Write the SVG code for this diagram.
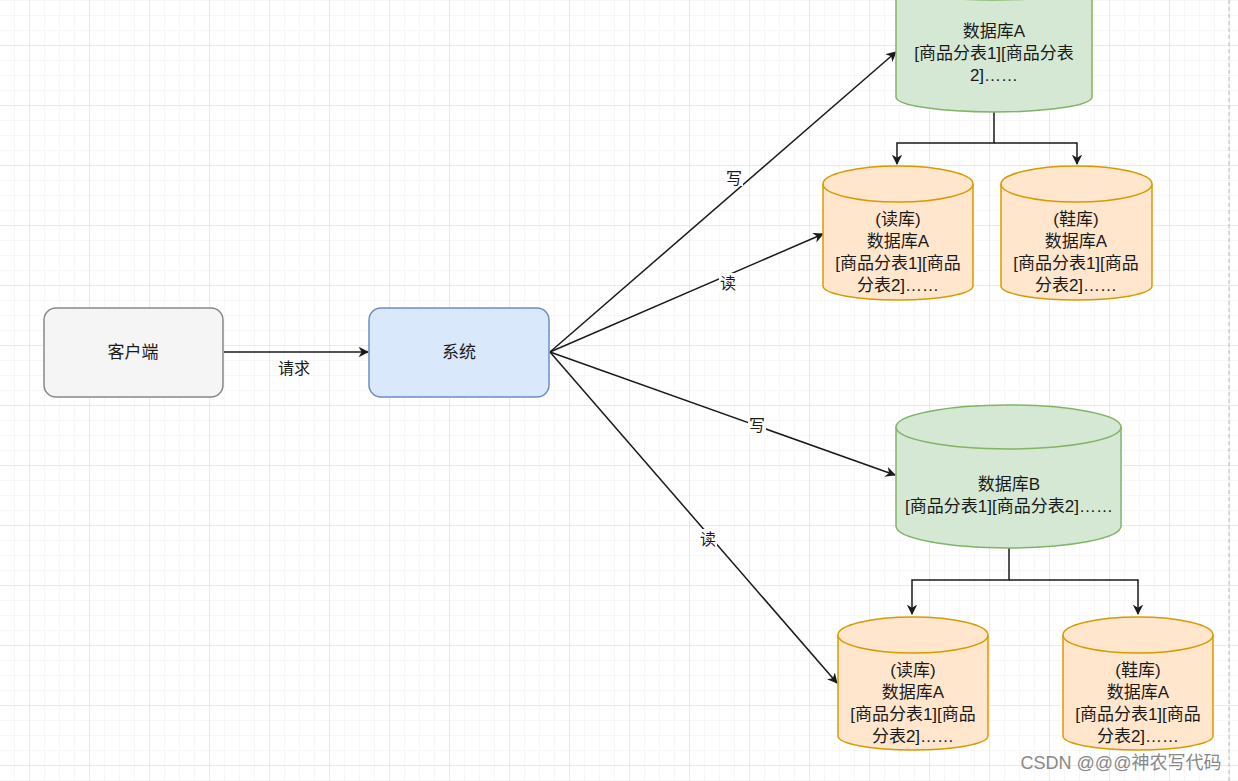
<svg xmlns="http://www.w3.org/2000/svg" width="1238" height="781" viewBox="0 0 1238 781">
<defs>
<pattern id="minor" width="15" height="15" patternUnits="userSpaceOnUse" x="29" y="45"><path d="M0 0H15M0 0V15" fill="none" stroke="#f0f0f0" stroke-width="1"/></pattern>
<pattern id="major" width="60" height="60" patternUnits="userSpaceOnUse" x="29" y="45"><path d="M0 0H60M0 0V60" fill="none" stroke="#dedede" stroke-width="1"/></pattern>
<marker id="ar" viewBox="0 0 10 10" refX="9" refY="5" markerWidth="7" markerHeight="7" orient="auto"><path d="M0 0L10 5L0 10L3 5Z" fill="#1a1a1a"/></marker>
<style>
text{font-family:"Liberation Sans","Noto Sans CJK SC",sans-serif;font-size:17px;fill:#1a1a1a;text-anchor:middle}
.c{stroke:#1a1a1a;stroke-width:1.5;fill:none}
.g{fill:#d5e8d4;stroke:#82b366;stroke-width:1.5}
.o{fill:#ffe6cc;stroke:#d79b00;stroke-width:1.5}
.lbl{font-size:16px}
</style>
</defs>
<rect width="1238" height="781" fill="#fff"/>
<rect width="1238" height="781" fill="url(#minor)"/>
<rect width="1238" height="781" fill="url(#major)"/>
<line x1="1229" y1="0" x2="1229" y2="781" stroke="#bbb" stroke-dasharray="4 3"/>
<g id="connectors">
<line class="c" x1="224" y1="352" x2="368" y2="352" marker-end="url(#ar)"/>
<text class="lbl" x="294" y="374">请求</text>
<line class="c" x1="550" y1="352" x2="896" y2="52" marker-end="url(#ar)"/>
<rect x="725" y="168" width="18" height="18" fill="#fff"/><text class="lbl" x="734" y="184">写</text>
<line class="c" x1="550" y1="352" x2="823" y2="234" marker-end="url(#ar)"/>
<rect x="719" y="273" width="18" height="18" fill="#fff"/><text class="lbl" x="728" y="289">读</text>
<line class="c" x1="550" y1="352" x2="895" y2="475" marker-end="url(#ar)"/>
<rect x="748" y="415" width="18" height="18" fill="#fff"/><text class="lbl" x="757" y="431">写</text>
<line class="c" x1="550" y1="352" x2="837" y2="683" marker-end="url(#ar)"/>
<rect x="699" y="529" width="18" height="18" fill="#fff"/><text class="lbl" x="708" y="545">读</text>
<path class="c" d="M994 112V143H897V164" marker-end="url(#ar)"/>
<path class="c" d="M994 143H1077V164" marker-end="url(#ar)"/>
<path class="c" d="M1009 548V580H912V614" marker-end="url(#ar)"/>
<path class="c" d="M1009 580H1138V614" marker-end="url(#ar)"/>
</g>
<g id="client"><rect x="44" y="308" width="179" height="89" rx="12" fill="#f5f5f5" stroke="#888" stroke-width="1.5"/><text x="133" y="358">客户端</text></g>
<g id="system"><rect x="369" y="308" width="180" height="89" rx="12" fill="#dae8fc" stroke="#6c8ebf" stroke-width="1.5"/><text x="459" y="358">系统</text></g>
<g id="dbA"><path class="g" d="M896 -15V97A98 15 0 0 0 1092 97V-15"/><ellipse class="g" cx="994" cy="-15" rx="98" ry="15"/>
<text x="994" y="37">数据库A</text><text x="994" y="59">[商品分表1][商品分表</text><text x="994" y="81">2]……</text></g>
<g id="dbA-read"><path class="o" d="M823 184V286A75 14 0 0 0 973 286V184"/><ellipse class="o" cx="898" cy="184" rx="75" ry="18"/>
<text x="898" y="225">(读库)</text><text x="898" y="247">数据库A</text><text x="898" y="269">[商品分表1][商品</text><text x="898" y="291">分表2]……</text></g>
<g id="dbA-shoe"><path class="o" d="M1001 184V286A75.5 14 0 0 0 1152 286V184"/><ellipse class="o" cx="1076.5" cy="184" rx="75.5" ry="18"/>
<text x="1076" y="225">(鞋库)</text><text x="1076" y="247">数据库A</text><text x="1076" y="269">[商品分表1][商品</text><text x="1076" y="291">分表2]……</text></g>
<g id="dbB"><path class="g" d="M896 427V526A112.5 22 0 0 0 1121 526V427"/><ellipse class="g" cx="1008.5" cy="427" rx="112.5" ry="22"/>
<text x="1009" y="490">数据库B</text><text x="1009" y="512">[商品分表1][商品分表2]……</text></g>
<g id="dbB-read"><path class="o" d="M838 635V736A75 14 0 0 0 988 736V635"/><ellipse class="o" cx="913" cy="635" rx="75" ry="18"/>
<text x="913" y="676">(读库)</text><text x="913" y="698">数据库A</text><text x="913" y="720">[商品分表1][商品</text><text x="913" y="742">分表2]……</text></g>
<g id="dbB-shoe"><path class="o" d="M1063 635V736A75 14 0 0 0 1213 736V635"/><ellipse class="o" cx="1138" cy="635" rx="75" ry="18"/>
<text x="1138" y="676">(鞋库)</text><text x="1138" y="698">数据库A</text><text x="1138" y="720">[商品分表1][商品</text><text x="1138" y="742">分表2]……</text></g>
<text x="1121" y="769" style="font-size:18px;fill:#888">CSDN @@@神农写代码</text>
</svg>
